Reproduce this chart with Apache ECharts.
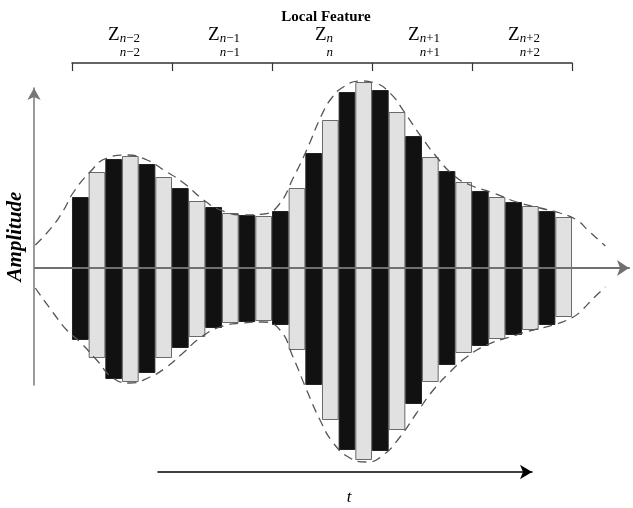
<!DOCTYPE html>
<html>
<head>
<meta charset="utf-8">
<script src="https://cdn.jsdelivr.net/npm/echarts@6/dist/echarts.min.js"></script>
<style>
  html, body { margin: 0; padding: 0; background: #fff; }
  #chart { width: 633px; height: 508px; }
</style>
</head>
<body>
<div id="chart"></div>
<script>
// bar amplitudes, one per time step, above and below the centre line
const upper = [71, 96, 109, 112, 104, 91, 80, 67, 61, 55, 53, 52, 57, 80, 115, 148, 176, 186, 178, 156, 132, 111, 97, 86, 77, 71, 66, 62, 57, 51];
const lower = [72, 90, 111, 114, 105, 90, 80, 69, 60, 55, 54, 53, 57, 82, 117, 152, 182, 192, 183, 162, 136, 114, 97, 85, 78, 71, 67, 62, 57, 49];

// dashed envelope as [t, amplitude]
const envUpper = [[-2.2, 23], [-1.2, 41], [-0.5, 58], [0.06, 75], [1.08, 96], [2.1, 110], [3.3, 113], [4.5, 108], [5.5, 98], [6.7, 85], [7.9, 68], [8.9, 58], [10.3, 53], [11.5, 54], [12.4, 63], [13.3, 91], [14.08, 118], [14.98, 153], [15.58, 170], [16.28, 181], [17.28, 187], [18.18, 185], [19.08, 175], [19.98, 155], [20.88, 133], [21.88, 111], [22.88, 93], [23.88, 83], [25.28, 75], [26.68, 66], [28.08, 60], [29.28, 55], [30.28, 48], [31.0, 37], [31.8, 25], [32.0, 22]];
const envLower = [[-2.2, 20], [-1.12, 45], [-0.32, 62], [0.48, 74], [1.48, 92], [2.46, 110], [3.48, 115], [4.68, 109], [5.68, 99], [6.66, 85], [7.68, 70], [8.88, 59], [10.26, 55], [11.46, 54], [12.48, 62], [13.26, 89], [14.08, 122], [14.88, 152], [15.68, 175], [16.68, 190], [17.68, 194], [18.68, 187], [19.68, 169], [20.68, 145], [21.68, 122], [22.68, 104], [23.68, 89], [24.88, 77], [26.28, 69], [27.68, 62], [28.88, 57], [30.08, 49], [30.6, 42], [31.3, 30], [32.0, 19]];

// local feature segments along the top
const segments = ['n−2', 'n−1', 'n', 'n+1', 'n+2'];

const chart = echarts.init(document.getElementById('chart'));
const serif = 'Liberation Serif';

const barColor = (i) => i % 2 === 0 ? '#111' : '#e1e1e1';
const barBorder = (i) => i % 2 === 0 ? '#222' : '#6a6a6a';

function segLabel(v) {
  const n = v.slice(0, 1), rest = v.slice(1);
  const top = '{z|Z}{si|' + n + '}' + (rest ? '{su|' + rest + '}' : '');
  const bot = '{bi|' + n + '}' + (rest ? '{bu|' + rest + '}' : '');
  return top + '\n' + bot;
}

chart.setOption({
  animation: false,
  title: {
    text: 'Local Feature',
    left: 321, top: 5, textAlign: 'center',
    textStyle: { fontFamily: serif, fontWeight: 'bold', fontSize: 15, color: '#000' }
  },
  grid: [
    { left: 35, right: 4, top: 68, bottom: 40 },
    { left: 34, width: 10, top: 88, bottom: 123 },
    { left: 158, right: 101, top: 471, height: 1 },
    { left: 72, right: 61, top: 62, height: 1 }
  ],
  xAxis: [
    {
      type: 'value', gridIndex: 0, min: -2.22, max: 33.42, z: 5,
      axisLine: { show: true, onZero: true, symbol: ['none', 'arrow'], symbolSize: [12, 12],
        lineStyle: { color: '#707070', width: 2 } },
      axisTick: { show: false }, axisLabel: { show: false }, splitLine: { show: false }
    },
    { type: 'value', gridIndex: 1, show: false },
    {
      type: 'value', gridIndex: 2, min: 0, max: 1, position: 'bottom',
      name: 't', nameLocation: 'middle', nameGap: 17,
      nameTextStyle: { fontFamily: serif, fontStyle: 'italic', fontSize: 17, color: '#000', padding: [0, 0, 0, 8] },
      axisLine: { show: true, symbol: ['none', 'arrow'], symbolSize: [11, 12],
        lineStyle: { color: '#000', width: 1.5 } },
      axisTick: { show: false }, axisLabel: { show: false }, splitLine: { show: false }
    },
    {
      type: 'category', gridIndex: 3, position: 'top', data: segments,
      axisLine: { show: true, lineStyle: { color: '#333', width: 1.5 } },
      axisTick: { show: true, inside: true, interval: 0, length: 8, lineStyle: { color: '#333', width: 1.2 } },
      axisLabel: {
        interval: 0, margin: 2, color: '#000',
        formatter: segLabel,
        rich: {
          z: { fontFamily: serif, fontSize: 19, lineHeight: 20, padding: [0, 0, 0, 4] },
          si: { fontFamily: serif, fontStyle: 'italic', fontSize: 13, lineHeight: 20, verticalAlign: 'bottom' },
          su: { fontFamily: serif, fontSize: 13, lineHeight: 20, verticalAlign: 'bottom' },
          bi: { fontFamily: serif, fontStyle: 'italic', fontSize: 13, lineHeight: 15, align: 'right' },
          bu: { fontFamily: serif, fontSize: 13, lineHeight: 15, align: 'right' }
        }
      },
      splitLine: { show: false }
    }
  ],
  yAxis: [
    { type: 'value', gridIndex: 0, min: -200, max: 200, show: false },
    {
      type: 'value', gridIndex: 1, position: 'left',
      name: 'Amplitude', nameLocation: 'middle', nameRotate: 90, nameGap: 8,
      nameTextStyle: { fontFamily: serif, fontStyle: 'italic', fontWeight: 'bold', fontSize: 21, color: '#000' },
      axisLine: { show: true, onZero: false, symbol: ['none', 'arrow'], symbolSize: [10, 12],
        lineStyle: { color: '#777', width: 1.5 } },
      axisTick: { show: false }, axisLabel: { show: false }, splitLine: { show: false }
    },
    { type: 'value', gridIndex: 2, show: false },
    { type: 'value', gridIndex: 3, show: false }
  ],
  series: [
    {
      type: 'bar', xAxisIndex: 0, yAxisIndex: 0, stack: 'amp', barWidth: 16.7,
      data: upper.map((v, i) => ({ value: [i + 0.5, v],
        itemStyle: { color: barColor(i), borderColor: barBorder(i), borderWidth: 1 } }))
    },
    {
      type: 'bar', xAxisIndex: 0, yAxisIndex: 0, stack: 'amp', barWidth: 16.7,
      data: lower.map((v, i) => ({ value: [i + 0.5, -v],
        itemStyle: { color: barColor(i), borderColor: barBorder(i), borderWidth: 1 } }))
    },
    {
      type: 'line', xAxisIndex: 0, yAxisIndex: 0, smooth: 0.5, symbol: 'none', z: 4,
      lineStyle: { color: '#555', width: 1.3, type: [9, 6] },
      data: envUpper
    },
    {
      type: 'line', xAxisIndex: 0, yAxisIndex: 0, smooth: 0.5, symbol: 'none', z: 4,
      lineStyle: { color: '#555', width: 1.3, type: [9, 6] },
      data: envLower.map(p => [p[0], -p[1]])
    }
  ]
});
</script>
</body>
</html>
